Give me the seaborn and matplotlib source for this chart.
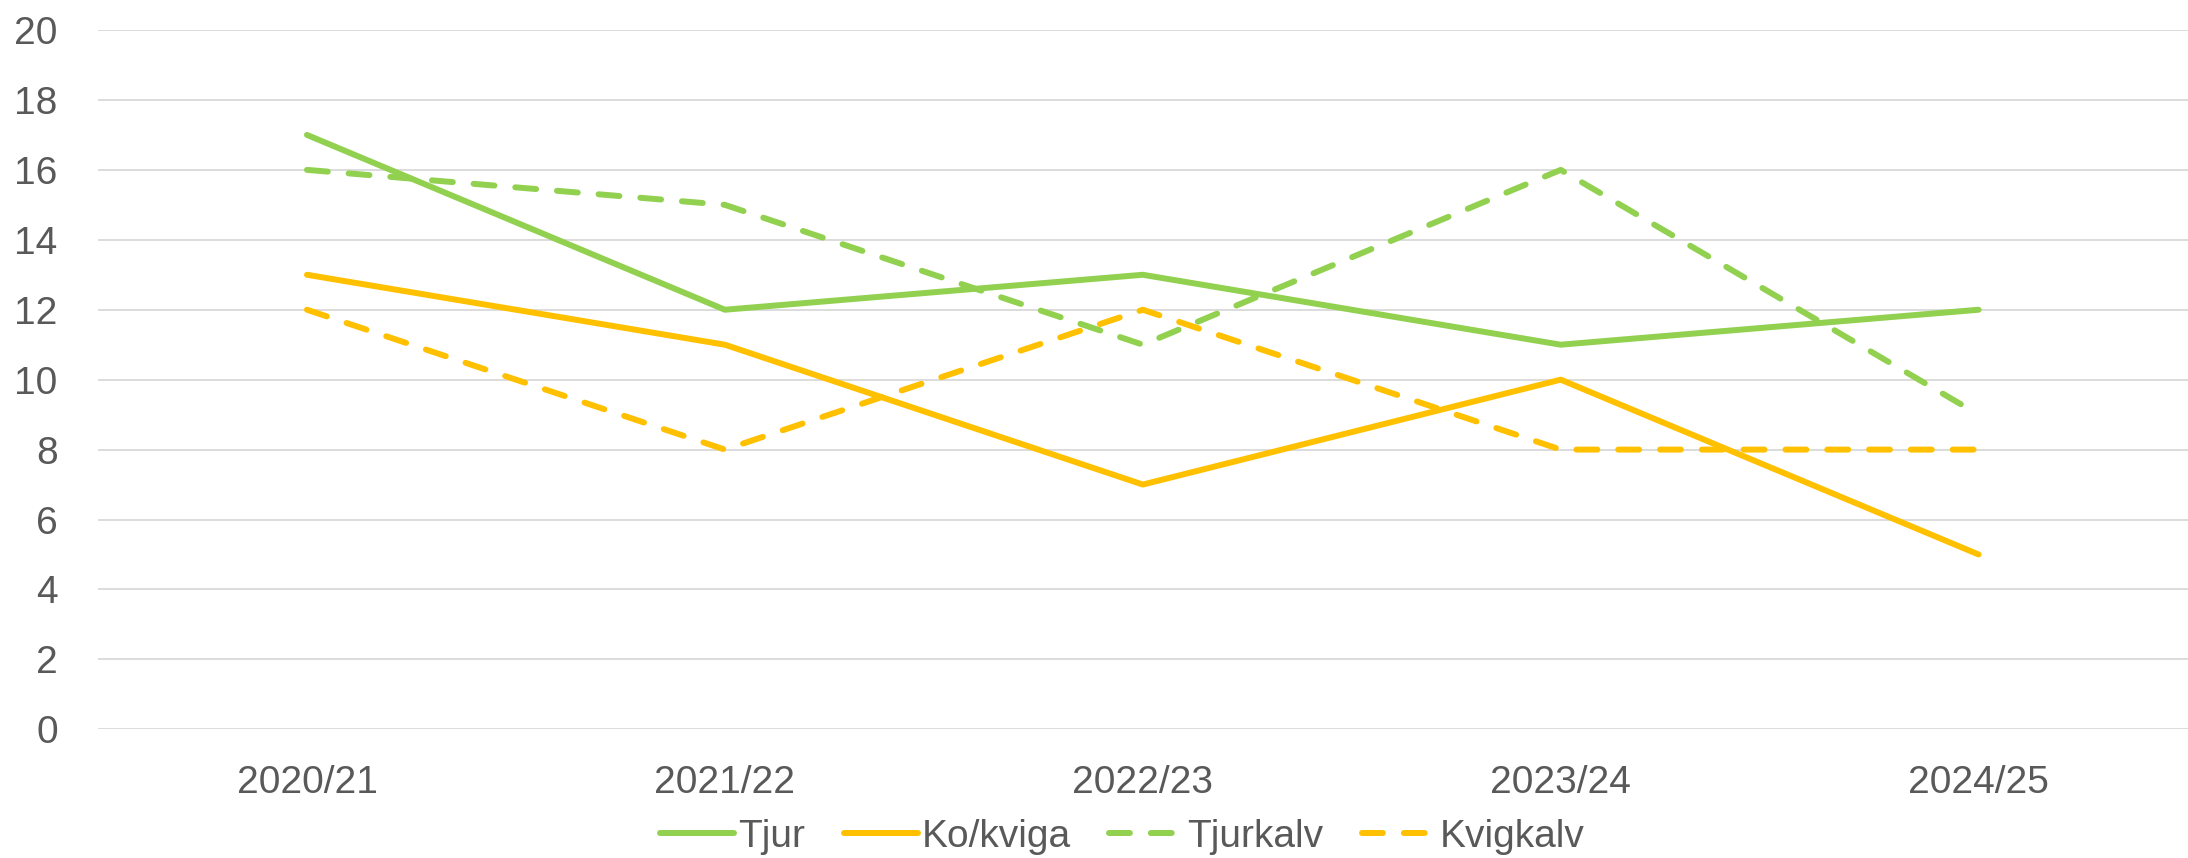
import matplotlib
matplotlib.use("Agg")
import matplotlib.pyplot as plt
import seaborn as sns
import pandas as pd

# data
seasons = ["2020/21", "2021/22", "2022/23", "2023/24", "2024/25"]
tjur = [17, 12, 13, 11, 12]
ko_kviga = [13, 11, 7, 10, 5]
tjurkalv = [16, 15, 11, 16, 9]
kvigkalv = [12, 8, 12, 8, 8]

series_names = ["Tjur", "Ko/kviga", "Tjurkalv", "Kvigkalv"]
series_values = [tjur, ko_kviga, tjurkalv, kvigkalv]

GREEN = "#92D050"
ORANGE = "#FFC000"
TEXT = "#595959"
GRID = "#D9D9D9"
LW = 4.3

palette = {"Tjur": GREEN, "Ko/kviga": ORANGE, "Tjurkalv": GREEN, "Kvigkalv": ORANGE}
dash_pat = (3.5, 3.5)
dashes = {"Tjur": "", "Ko/kviga": "", "Tjurkalv": dash_pat, "Kvigkalv": dash_pat}

rows = []
for name, vals in zip(series_names, series_values):
    for s, v in zip(seasons, vals):
        rows.append({"season": s, "value": v, "series": name})
df = pd.DataFrame(rows)

sns.set_style("white")
plt.rcParams["font.family"] = ["Liberation Sans", "DejaVu Sans"]

fig = plt.figure(figsize=(21.88, 8.58), dpi=100)
ax = fig.add_axes([0.0448, 0.150, 0.955, 0.815])

sns.lineplot(data=df, x="season", y="value", hue="series", style="series",
             hue_order=series_names, style_order=series_names,
             palette=palette, dashes=dashes, linewidth=LW, ax=ax,
             sort=False, legend=True)

ax.set_xlim(-0.5, len(seasons) - 0.5)
ax.set_ylim(0, 20)
ax.set_yticks(range(0, 21, 2))
ax.set_xlabel("")
ax.set_ylabel("")
ax.grid(axis="y", color=GRID, linewidth=1.3)
ax.grid(axis="x", visible=False)
ax.set_axisbelow(True)
for sp in ax.spines.values():
    sp.set_visible(False)
ax.tick_params(axis="y", length=0, pad=29, labelsize=28, labelcolor=TEXT)
ax.tick_params(axis="x", length=0, pad=26, labelsize=28, labelcolor=TEXT)

handles, labels = ax.get_legend_handles_labels()
leg = ax.legend(handles, labels, loc="center", bbox_to_anchor=(0.513, 0.025),
                bbox_transform=fig.transFigure, ncol=4, frameon=False,
                fontsize=28, labelcolor=TEXT, handlelength=1.9, handletextpad=0.1,
                columnspacing=1.0, borderaxespad=0)

# rounded line ends in plot and legend, same width everywhere
for line in list(ax.get_lines()) + list(leg.get_lines()):
    line.set_linewidth(LW)
    line.set_dash_capstyle("round")
    line.set_solid_capstyle("round")

fig.savefig("out.png", dpi=100)
